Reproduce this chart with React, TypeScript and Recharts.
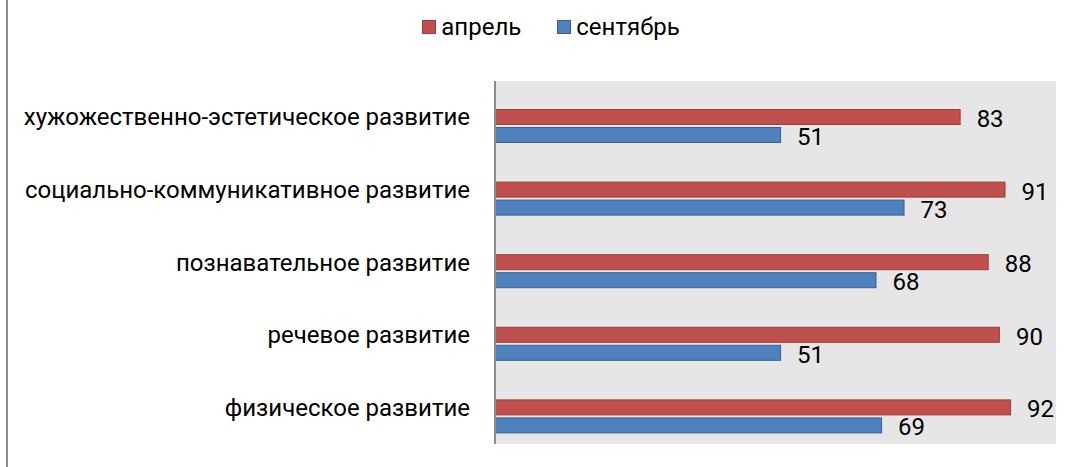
import React from 'react';
import { BarChart, Bar, XAxis, YAxis, CartesianGrid, Legend, LabelList } from 'recharts';

const categories = [
  'хужожественно-эстетическое развитие',
  'социально-коммуникативное развитие',
  'познавательное развитие',
  'речевое развитие',
  'физическое развитие',
];
const april = [83, 91, 88, 90, 92];
const september = [51, 73, 68, 51, 69];
const seriesNames = { april: 'апрель', september: 'сентябрь' };

const data = categories.map((name, i) => ({
  name,
  april: april[i],
  september: september[i],
}));

const FONT = 'Roboto, "Noto Sans", sans-serif';
const FONT_SIZE = 24;
const RED = '#C0504D';
const RED_EDGE = '#9A3D3A';
const BLUE = '#4F81BD';
const BLUE_EDGE = '#38608F';
// Excel places the bar pair a little below the category centre
const SHIFT = 9;
const LEGEND_H = 28;

const makeShape = (fill: string, stroke: string) => (props: any) => {
  const { x, y, width, height } = props;
  return (
    <rect
      x={x + 0.5}
      y={y + SHIFT + 0.5}
      width={Math.max(width - 1, 0)}
      height={height - 1}
      fill={fill}
      stroke={stroke}
      strokeWidth={1}
    />
  );
};

const ValueLabel = (props: any) => {
  const { x, y, width, height, value } = props;
  return (
    <text
      x={x + width + 16}
      y={y + height / 2 + SHIFT + 2}
      dominantBaseline="central"
      fontFamily={FONT}
      fontSize={FONT_SIZE}
      fill="#000"
    >
      {value}
    </text>
  );
};

const CategoryTick = (props: any) => {
  const { x, y, payload } = props;
  return (
    <text
      x={x}
      y={y}
      textAnchor="end"
      dominantBaseline="central"
      fontFamily={FONT}
      fontSize={FONT_SIZE}
      fill="#000"
    >
      {payload.value}
    </text>
  );
};

const LegendContent = () => {
  const items = [
    { label: seriesNames.april, fill: RED, stroke: RED_EDGE },
    { label: seriesNames.september, fill: BLUE, stroke: BLUE_EDGE },
  ];
  return (
    <div
      style={{
        display: 'flex',
        justifyContent: 'center',
        alignItems: 'center',
        height: LEGEND_H,
        paddingLeft: 32,
        fontFamily: FONT,
        fontSize: FONT_SIZE,
        lineHeight: `${LEGEND_H}px`,
      }}
    >
      {items.map((it, i) => (
        <div key={it.label} style={{ display: 'flex', alignItems: 'center', marginLeft: i ? 36 : 0 }}>
          <span
            style={{
              display: 'inline-block',
              width: 12,
              height: 12,
              background: it.fill,
              border: `1px solid ${it.stroke}`,
              marginRight: 5,
            }}
          />
          <span>{it.label}</span>
        </div>
      ))}
    </div>
  );
};

export default function App() {
  return (
    <div style={{ position: 'absolute', left: 0, top: 0, width: 1070, height: 467, background: '#fff' }}>
      <div style={{ position: 'absolute', left: 6, top: 0, width: 2, height: 467, background: '#8c8c8c' }} />
      <BarChart
        width={1070}
        height={467}
        data={data}
        layout="vertical"
        margin={{ top: 81 - LEGEND_H, right: 14, bottom: 23, left: 0 }}
        barSize={16}
        barGap={2}
      >
        <CartesianGrid fill="#E6E6E6" stroke="none" horizontal={false} vertical={false} />
        <XAxis type="number" domain={[0, 100]} hide />
        <YAxis
          type="category"
          dataKey="name"
          width={495}
          axisLine={{ stroke: '#8c8c8c', strokeWidth: 2 }}
          tickLine={false}
          tickSize={0}
          tickMargin={25}
          tick={<CategoryTick />}
          interval={0}
        />
        <Legend
          verticalAlign="top"
          content={<LegendContent />}
          wrapperStyle={{ top: 13, left: 0, width: 1070, height: LEGEND_H }}
        />
        <Bar dataKey="april" name={seriesNames.april} isAnimationActive={false} shape={makeShape(RED, RED_EDGE)}>
          <LabelList dataKey="april" content={<ValueLabel />} />
        </Bar>
        <Bar
          dataKey="september"
          name={seriesNames.september}
          isAnimationActive={false}
          shape={makeShape(BLUE, BLUE_EDGE)}
        >
          <LabelList dataKey="september" content={<ValueLabel />} />
        </Bar>
      </BarChart>
    </div>
  );
}
